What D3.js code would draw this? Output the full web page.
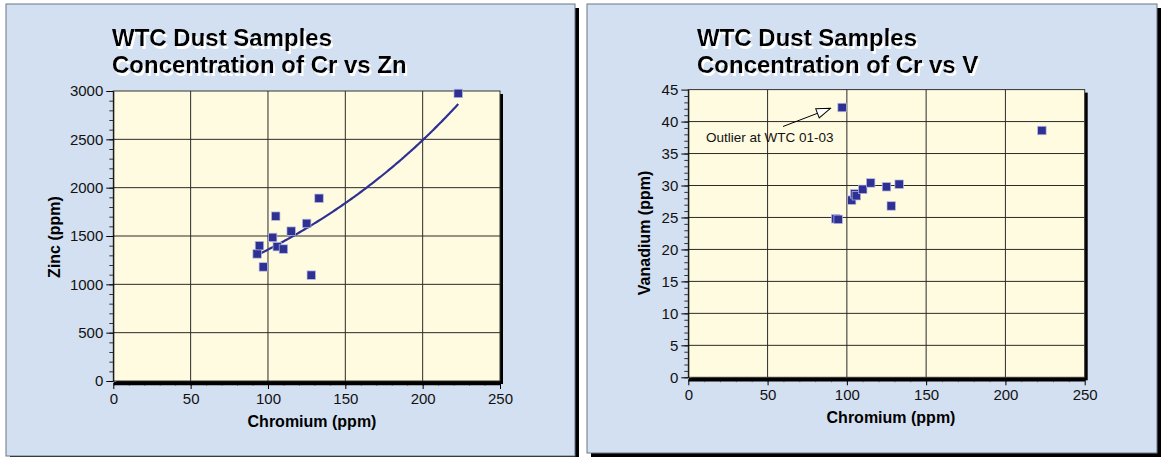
<!DOCTYPE html>
<html>
<head>
<meta charset="utf-8">
<script src="https://cdn.jsdelivr.net/npm/d3@7"></script>
<style>
  html, body { margin: 0; padding: 0; background: #ffffff; }
  svg { display: block; font-family: "Liberation Sans", Arial, sans-serif; }
</style>
</head>
<body>
<svg id="chart" width="1161" height="457"></svg>
<script>
// sample values (same Cr value per sample in both charts)
const chromium = [93, 94.5, 97, 103, 105, 106, 110, 115, 125, 128, 133, 223];
const zinc     = [1315, 1400, 1180, 1485, 1705, 1390, 1365, 1550, 1630, 1095, 1890, 2975];
const vanadium = [24.8, 24.7, 42.2, 27.7, 28.7, 28.4, 29.4, 30.4, 29.8, 26.8, 30.2, 38.6];

const xTicks = [0, 50, 100, 150, 200, 250];
const znTicks = [0, 500, 1000, 1500, 2000, 2500, 3000];
const vTicks = [0, 5, 10, 15, 20, 25, 30, 35, 40, 45];

const titleLeft = ["WTC Dust Samples", "Concentration of Cr vs Zn"];
const titleRight = ["WTC Dust Samples", "Concentration of Cr vs V"];
const outlierNote = "Outlier at WTC 01-03";

const markColor = "#2e3192";
const svg = d3.select("#chart");
const defs = svg.append("defs");

// white offset shadow for the titles
const shadow = defs.append("filter").attr("id", "whiteShadow")
    .attr("x", "-5%").attr("y", "-20%").attr("width", "115%").attr("height", "150%");
shadow.append("feOffset").attr("in", "SourceAlpha").attr("dx", 2).attr("dy", 2.5).attr("result", "off");
shadow.append("feFlood").attr("flood-color", "#ffffff").attr("result", "white");
shadow.append("feComposite").attr("in", "white").attr("in2", "off").attr("operator", "in").attr("result", "sh");
const merge = shadow.append("feMerge");
merge.append("feMergeNode").attr("in", "sh");
merge.append("feMergeNode").attr("in", "SourceGraphic");

function drawPanel(opt) {
    const g = svg.append("g");

    // panel with drop shadow
    g.append("rect")
        .attr("x", opt.panel[0] + 4).attr("y", opt.panel[1] + 4)
        .attr("width", opt.panel[2]).attr("height", opt.panel[3])
        .attr("fill", "#000");
    g.append("rect")
        .attr("x", opt.panel[0]).attr("y", opt.panel[1])
        .attr("width", opt.panel[2]).attr("height", opt.panel[3])
        .attr("fill", "#d3e0f1")
        .attr("stroke", "#6b7685")
        .attr("stroke-width", 1);

    // title
    g.append("text")
        .attr("x", opt.titleX).attr("y", 46)
        .attr("font-size", "24px").attr("font-weight", "bold")
        .attr("fill", "#000")
        .attr("filter", "url(#whiteShadow)")
        .selectAll("tspan")
        .data(opt.title)
        .enter().append("tspan")
        .attr("x", opt.titleX)
        .attr("dy", (d, i) => i === 0 ? 0 : 27)
        .text(d => d);

    const x = d3.scaleLinear().domain([0, 250]).range(opt.xRange);
    const y = d3.scaleLinear().domain(opt.yDomain).range(opt.yRange);
    const [x0, x1] = opt.xRange;
    const [yb, yt] = opt.yRange;

    // plot area with shadow
    g.append("rect")
        .attr("x", x0 + 3).attr("y", yt + 3)
        .attr("width", x1 - x0).attr("height", yb - yt)
        .attr("fill", "#000");
    g.append("rect")
        .attr("x", x0).attr("y", yt)
        .attr("width", x1 - x0).attr("height", yb - yt)
        .attr("fill", "#fffbe0")
        .attr("stroke", "#333").attr("stroke-width", 1);

    // grid
    g.append("g").selectAll("line")
        .data(xTicks.slice(1, -1))
        .enter().append("line")
        .attr("x1", d => x(d)).attr("x2", d => x(d))
        .attr("y1", yt).attr("y2", yb)
        .attr("stroke", "#2a2a2a").attr("stroke-width", 1);
    g.append("g").selectAll("line")
        .data(opt.yTicks.slice(1, -1))
        .enter().append("line")
        .attr("x1", x0).attr("x2", x1)
        .attr("y1", d => y(d)).attr("y2", d => y(d))
        .attr("stroke", "#2a2a2a").attr("stroke-width", 1);

    // y axis minor + major
    g.append("g")
        .attr("transform", `translate(${x0},0)`)
        .call(d3.axisLeft(y).tickValues(d3.range(opt.yDomain[0], opt.yDomain[1], opt.yMinor))
            .tickSize(4).tickFormat(""))
        .call(a => a.select(".domain").remove())
        .selectAll("line").attr("stroke", "#333");
    g.append("g")
        .attr("transform", `translate(${x0},0)`)
        .call(d3.axisLeft(y).tickValues(opt.yTicks).tickFormat(d3.format("d"))
            .tickSize(7).tickPadding(3).tickSizeOuter(0))
        .call(a => a.selectAll("text").attr("font-size", "15px").attr("fill", "#111")
            .attr("font-family", "Liberation Sans, Arial, sans-serif"))
        .call(a => a.select(".domain").attr("stroke", "#000"));

    // x axis minor + major
    g.append("g")
        .attr("transform", `translate(0,${yb + 2})`)
        .call(d3.axisBottom(x).tickValues(d3.range(0, 250, 10)).tickSize(3).tickFormat(""))
        .call(a => a.select(".domain").remove())
        .selectAll("line").attr("stroke", "#888");
    g.append("g")
        .attr("transform", `translate(0,${yb + 2})`)
        .call(d3.axisBottom(x).tickValues(xTicks).tickSize(6).tickPadding(4).tickSizeOuter(0))
        .call(a => a.selectAll("text").attr("font-size", "15px").attr("fill", "#111")
            .attr("font-family", "Liberation Sans, Arial, sans-serif"))
        .call(a => a.select(".domain").attr("stroke", "#000").attr("stroke-width", 3.5));

    // axis titles
    g.append("text")
        .attr("x", opt.xLabel[0]).attr("y", opt.xLabel[1])
        .attr("text-anchor", "middle")
        .attr("font-size", "16px").attr("font-weight", "bold")
        .text("Chromium (ppm)");
    g.append("text")
        .attr("transform", `translate(${opt.yLabel[0]},${opt.yLabel[1]}) rotate(-90)`)
        .attr("text-anchor", "middle").attr("dominant-baseline", "central")
        .attr("font-size", "16px").attr("font-weight", "bold")
        .text(opt.yTitle);

    return {g, x, y};
}

// ---- Left: Cr vs Zn ----
const left = drawPanel({
    panel: [6, 4, 569, 452],
    title: titleLeft, titleX: 112,
    xRange: [113.3, 500], yRange: [381, 91],
    yDomain: [0, 3000], yTicks: znTicks, yMinor: 100,
    xLabel: [312, 427], yLabel: [54, 237], yTitle: "Zinc (ppm)"
});

// exponential trend line fitted to the samples (least squares on ln y)
const lnZn = zinc.map(Math.log);
const mx = d3.mean(chromium), my = d3.mean(lnZn);
const b = d3.sum(chromium, (c, i) => (c - mx) * (lnZn[i] - my)) / d3.sum(chromium, c => (c - mx) ** 2);
const a = Math.exp(my - b * mx);
const trendX = d3.range(d3.min(chromium), d3.max(chromium) + 0.01, 1);
left.g.append("path")
    .datum(trendX)
    .attr("fill", "none")
    .attr("stroke", markColor)
    .attr("stroke-width", 2.2)
    .attr("d", d3.line().x(d => left.x(d)).y(d => left.y(a * Math.exp(b * d))));

left.g.append("g").selectAll("rect")
    .data(chromium.map((c, i) => ({c, v: zinc[i]})))
    .enter().append("rect")
    .attr("x", d => left.x(d.c) - 4.25).attr("y", d => left.y(d.v) - 4.25)
    .attr("width", 8.5).attr("height", 8.5)
    .attr("fill", markColor)
    .attr("stroke", "#b9bce6").attr("stroke-width", 0.7);

// ---- Right: Cr vs V ----
const right = drawPanel({
    panel: [587, 4, 570, 449],
    title: titleRight, titleX: 697,
    xRange: [688.3, 1084.7], yRange: [377.3, 89.6],
    yDomain: [0, 45], yTicks: vTicks, yMinor: 1,
    xLabel: [891, 423], yLabel: [644, 233], yTitle: "Vanadium (ppm)"
});

right.g.append("g").selectAll("rect")
    .data(chromium.map((c, i) => ({c, v: vanadium[i]})))
    .enter().append("rect")
    .attr("x", d => right.x(d.c) - 4.25).attr("y", d => right.y(d.v) - 4.25)
    .attr("width", 8.5).attr("height", 8.5)
    .attr("fill", markColor)
    .attr("stroke", "#b9bce6").attr("stroke-width", 0.7);

// outlier note with open arrow head
defs.append("marker")
    .attr("id", "openHead")
    .attr("viewBox", "0 0 16 12")
    .attr("refX", 15).attr("refY", 6)
    .attr("markerWidth", 16).attr("markerHeight", 12)
    .attr("markerUnits", "userSpaceOnUse")
    .attr("orient", "auto")
    .append("path")
    .attr("d", "M1,1 L15,6 L1,11 Z")
    .attr("fill", "#fff").attr("stroke", "#000").attr("stroke-width", 1);

right.g.append("line")
    .attr("x1", 783).attr("y1", 126.5)
    .attr("x2", 830.5).attr("y2", 108.3)
    .attr("stroke", "#000").attr("stroke-width", 1)
    .attr("marker-end", "url(#openHead)");
right.g.append("text")
    .attr("x", 706).attr("y", 142)
    .attr("font-size", "13.5px").attr("fill", "#111")
    .text(outlierNote);
</script>
</body>
</html>
